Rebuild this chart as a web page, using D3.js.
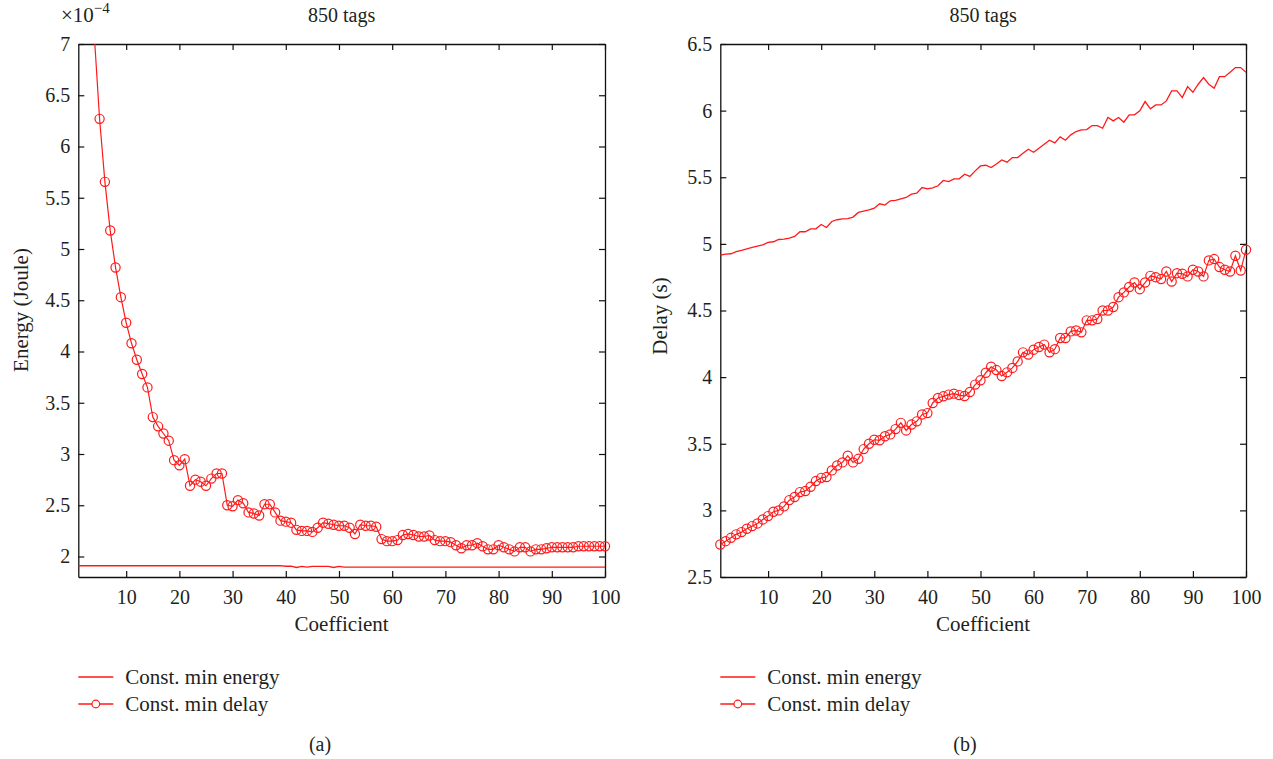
<!DOCTYPE html>
<html>
<head>
<meta charset="utf-8">
<script src="https://cdn.jsdelivr.net/npm/d3@7"></script>
<style>
  html, body { margin: 0; padding: 0; background: #fff; }
  svg { display: block; }
  svg text { font-family: "Liberation Serif", "DejaVu Serif", serif !important; fill: #231f20; }
</style>
</head>
<body>
<svg id="chart" width="1273" height="759"></svg>
<script>
// ---------------- DATA ----------------
const coefficient = [1,2,3,4,5,6,7,8,9,10,11,12,13,14,15,16,17,18,19,20,
  21,22,23,24,25,26,27,28,29,30,31,32,33,34,35,36,37,38,39,40,
  41,42,43,44,45,46,47,48,49,50,51,52,53,54,55,56,57,58,59,60,
  61,62,63,64,65,66,67,68,69,70,71,72,73,74,75,76,77,78,79,80,
  81,82,83,84,85,86,87,88,89,90,91,92,93,94,95,96,97,98,99,100];

// Panel (a): energy (x 1e-4 Joule)
const energyMinEnergy = [1.91,1.91,1.91,1.91,1.91,1.91,1.91,1.91,1.91,1.91,
  1.91,1.91,1.91,1.91,1.91,1.91,1.91,1.91,1.91,1.91,
  1.91,1.91,1.91,1.91,1.91,1.91,1.91,1.91,1.91,1.91,
  1.91,1.91,1.91,1.91,1.91,1.91,1.91,1.91,1.91,1.905,
  1.905,1.893,1.903,1.897,1.903,1.903,1.903,1.903,1.893,1.903,
  1.897,1.897,1.897,1.897,1.897,1.897,1.897,1.897,1.897,1.897,
  1.897,1.897,1.897,1.897,1.897,1.897,1.897,1.897,1.897,1.897,
  1.897,1.897,1.897,1.897,1.897,1.897,1.897,1.897,1.897,1.897,
  1.897,1.897,1.897,1.897,1.897,1.897,1.897,1.897,1.897,1.897,
  1.897,1.897,1.897,1.897,1.897,1.897,1.897,1.897,1.897,1.897];
const energyMinDelay = [10.4,8.9,7.85,7.09,6.27,5.655,5.18,4.82,4.53,4.28,
  4.08,3.92,3.78,3.65,3.36,3.27,3.20,3.13,2.94,2.89,
  2.95,2.69,2.75,2.73,2.69,2.76,2.81,2.81,2.50,2.49,
  2.55,2.52,2.43,2.42,2.40,2.51,2.51,2.43,2.35,2.34,
  2.33,2.26,2.25,2.25,2.24,2.28,2.33,2.32,2.31,2.30,
  2.30,2.28,2.22,2.31,2.30,2.30,2.29,2.17,2.15,2.15,
  2.16,2.21,2.22,2.21,2.195,2.195,2.205,2.16,2.15,2.15,
  2.14,2.11,2.08,2.11,2.11,2.13,2.10,2.07,2.07,2.11,
  2.09,2.07,2.05,2.09,2.09,2.05,2.07,2.07,2.08,2.09,
  2.09,2.09,2.09,2.09,2.10,2.10,2.10,2.10,2.10,2.10];

// Panel (b): delay (s)
const delayMinEnergy = [4.916,4.923,4.926,4.941,4.951,4.963,4.973,4.983,4.993,5.011,
  5.016,5.033,5.036,5.043,5.056,5.091,5.091,5.113,5.113,5.146,
  5.123,5.168,5.181,5.188,5.19,5.201,5.236,5.246,5.256,5.268,
  5.301,5.291,5.323,5.326,5.338,5.348,5.373,5.381,5.423,5.413,
  5.421,5.436,5.476,5.468,5.488,5.488,5.523,5.506,5.548,5.585,
  5.59,5.573,5.599,5.63,5.613,5.648,5.648,5.68,5.71,5.688,
  5.718,5.748,5.778,5.758,5.803,5.778,5.818,5.843,5.855,5.858,
  5.888,5.888,5.868,5.948,5.923,5.948,5.913,5.968,5.968,5.998,
  6.068,6.013,6.043,6.043,6.073,6.148,6.148,6.098,6.18,6.138,
  6.198,6.248,6.198,6.168,6.255,6.255,6.288,6.323,6.323,6.288];
const delayMinDelay = [2.744,2.769,2.794,2.82,2.837,2.862,2.882,2.902,2.932,2.957,
  2.99,3.0,3.03,3.077,3.10,3.137,3.145,3.177,3.22,3.244,
  3.25,3.30,3.337,3.36,3.41,3.36,3.387,3.46,3.50,3.53,
  3.526,3.556,3.57,3.61,3.657,3.60,3.644,3.668,3.72,3.73,
  3.806,3.843,3.856,3.869,3.876,3.865,3.858,3.888,3.944,3.976,
  4.033,4.078,4.053,4.008,4.036,4.069,4.118,4.186,4.169,4.206,
  4.226,4.244,4.186,4.21,4.294,4.294,4.343,4.35,4.336,4.426,
  4.426,4.436,4.50,4.50,4.526,4.60,4.636,4.676,4.71,4.66,
  4.71,4.76,4.75,4.736,4.793,4.718,4.78,4.776,4.756,4.806,
  4.793,4.756,4.876,4.886,4.826,4.806,4.793,4.911,4.80,4.956];

const xTicks = [10,20,30,40,50,60,70,80,90,100];
const yTicksA = [2,2.5,3,3.5,4,4.5,5,5.5,6,6.5,7];
const yTicksB = [2.5,3,3.5,4,4.5,5,5.5,6,6.5];
const seriesNames = ["Const. min energy", "Const. min delay"];
const titleText = "850 tags";

// ---------------- DRAW ----------------
const FONT = '"Liberation Serif", "DejaVu Serif", serif';
const svg = d3.select("#chart").attr("font-family", FONT);
const RED = "#ff1a1a";
const TICK = 6;

function panel(opt) {
  const x = d3.scaleLinear().domain([1, 100]).range([opt.left, opt.right]);
  const y = d3.scaleLinear().domain(opt.yDomain).range([opt.bottom, opt.top]);
  const g = svg.append("g");
  const clipId = "clip" + opt.id;
  svg.append("clipPath").attr("id", clipId).append("rect")
    .attr("x", opt.left).attr("y", opt.top)
    .attr("width", opt.right - opt.left).attr("height", opt.bottom - opt.top);

  const xb = d3.axisBottom(x).tickValues(xTicks).tickSize(-TICK).tickSizeOuter(0).tickPadding(13).tickFormat(d3.format("d"));
  const gx = g.append("g").attr("transform", `translate(0,${opt.bottom})`).call(xb);
  const xt = d3.axisTop(x).tickValues(xTicks).tickSize(-TICK).tickSizeOuter(0).tickFormat("");
  const gxt = g.append("g").attr("transform", `translate(0,${opt.top})`).call(xt);
  const yl = d3.axisLeft(y).tickValues(opt.yTicks).tickSize(-TICK).tickSizeOuter(0).tickPadding(8).tickFormat(d3.format(""));
  const gy = g.append("g").attr("transform", `translate(${opt.left},0)`).call(yl);
  const yr = d3.axisRight(y).tickValues(opt.yTicks).tickSize(-TICK).tickSizeOuter(0).tickFormat("");
  const gyr = g.append("g").attr("transform", `translate(${opt.right},0)`).call(yr);
  [gx, gxt, gy, gyr].forEach(a => {
    a.attr("font-family", FONT);
    a.select(".domain").attr("stroke", "#111").attr("stroke-width", 1.3);
    a.selectAll(".tick line").attr("stroke", "#111").attr("stroke-width", 1.2);
    a.selectAll(".tick text").attr("font-size", 20).attr("fill", "#231f20");
  });

  const line = d3.line().x((d, i) => x(coefficient[i])).y(d => y(d));
  const plot = g.append("g").attr("clip-path", `url(#${clipId})`);
  plot.append("path").datum(opt.s1).attr("d", line)
    .attr("fill", "none").attr("stroke", RED).attr("stroke-width", 1.3);
  plot.append("path").datum(opt.s2).attr("d", line)
    .attr("fill", "none").attr("stroke", RED).attr("stroke-width", 1.2);
  const pts = opt.s2.map((v, i) => ({ c: coefficient[i], v }))
    .filter(p => p.v <= opt.yDomain[1] && p.v >= opt.yDomain[0]);
  g.append("g").selectAll("circle").data(pts).join("circle")
    .attr("cx", p => x(p.c)).attr("cy", p => y(p.v)).attr("r", 4.6)
    .attr("fill", "none").attr("stroke", RED).attr("stroke-width", 1.2);

  g.append("text").attr("x", (opt.left + opt.right) / 2).attr("y", 22)
    .attr("text-anchor", "middle").attr("font-size", 20).text(titleText);
  g.append("text").attr("x", (opt.left + opt.right) / 2).attr("y", 631)
    .attr("text-anchor", "middle").attr("font-size", 21).text("Coefficient");
  g.append("text").attr("transform", `translate(${opt.ylabelX},${opt.ylabelY}) rotate(-90)`)
    .attr("text-anchor", "middle").attr("font-size", 21).text(opt.ylabel);

  const lx = opt.left;
  const ly = [677, 704];
  g.append("line").attr("x1", lx).attr("x2", lx + 35).attr("y1", ly[0]).attr("y2", ly[0])
    .attr("stroke", RED).attr("stroke-width", 1.3);
  g.append("line").attr("x1", lx).attr("x2", lx + 35).attr("y1", ly[1]).attr("y2", ly[1])
    .attr("stroke", RED).attr("stroke-width", 1.3);
  g.append("circle").attr("cx", lx + 17.5).attr("cy", ly[1]).attr("r", 3.8)
    .attr("fill", "#fff").attr("stroke", RED).attr("stroke-width", 1.2);
  seriesNames.forEach((n, i) => {
    g.append("text").attr("x", lx + 47).attr("y", ly[i] + 7)
      .attr("font-size", 21).text(n);
  });
  g.append("text").attr("x", opt.captionX).attr("y", 751)
    .attr("text-anchor", "middle").attr("font-size", 20).text(opt.caption);
  return { x, y };
}

panel({ id: "a", left: 78.3, right: 605, top: 44, bottom: 577,
  yDomain: [1.8, 7], yTicks: yTicksA, s1: energyMinEnergy, s2: energyMinDelay,
  ylabel: "Energy (Joule)", ylabelX: 28, ylabelY: 310, caption: "(a)", captionX: 320 });
panel({ id: "b", left: 720.3, right: 1246, top: 44, bottom: 577,
  yDomain: [2.5, 6.5], yTicks: yTicksB, s1: delayMinEnergy, s2: delayMinDelay,
  ylabel: "Delay (s)", ylabelX: 667, ylabelY: 316, caption: "(b)", captionX: 965 });

const ex = svg.append("text").attr("x", 61).attr("y", 22).attr("font-size", 21);
ex.append("tspan").text("\u00d710");
ex.append("tspan").attr("dy", -9).attr("font-size", 15).text("\u22124");
</script>
</body>
</html>
